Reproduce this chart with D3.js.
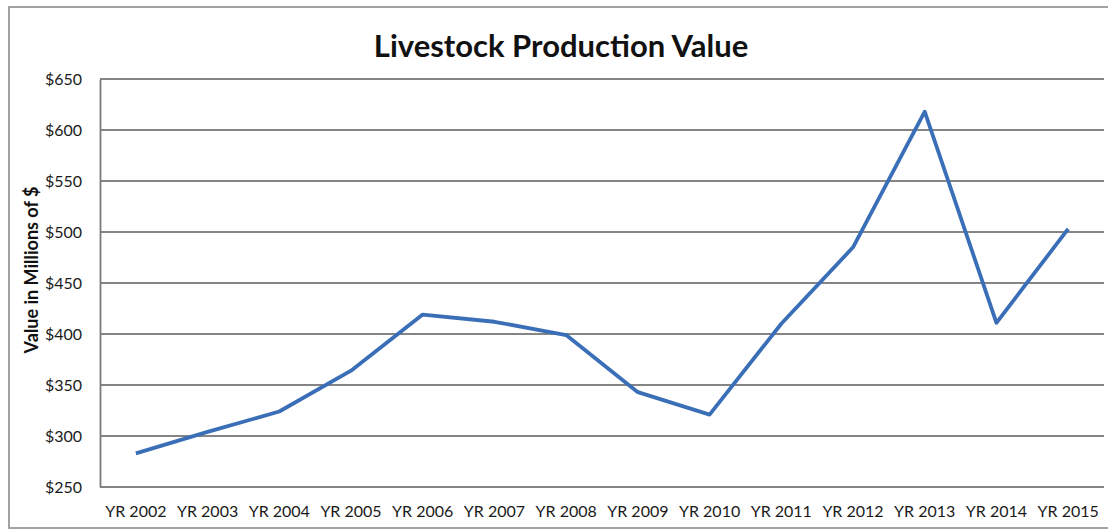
<!DOCTYPE html>
<html>
<head>
<meta charset="utf-8">
<script src="https://cdn.jsdelivr.net/npm/d3@7"></script>
<style>
  html, body { margin: 0; padding: 0; background: #fff; }
  svg { display: block; }
</style>
</head>
<body>
<svg id="chart" width="1108" height="531"></svg>
<script>
// Livestock production value, millions of dollars
const years = ["YR 2002", "YR 2003", "YR 2004", "YR 2005", "YR 2006", "YR 2007", "YR 2008",
               "YR 2009", "YR 2010", "YR 2011", "YR 2012", "YR 2013", "YR 2014", "YR 2015"];
const values = [283, 304, 324, 364, 419, 412, 399, 343, 321, 410, 485, 618, 411, 503];
const yTicks = [250, 300, 350, 400, 450, 500, 550, 600, 650];

const title = "Livestock Production Value";
const yTitle = "Value in Millions of $";

const svg = d3.select("#chart");
const W = 1108, H = 531;
const m = { left: 100, right: 4, top: 79, bottom: 44 };
const font = "Lato, 'Open Sans', sans-serif";

svg.append("rect").attr("width", W).attr("height", H).attr("fill", "#fff");

// chart frame
svg.append("rect")
  .attr("x", 9).attr("y", 7).attr("width", W + 10).attr("height", 521)
  .attr("fill", "none").attr("stroke", "#8c8c8c").attr("stroke-width", 1.6);

const x = d3.scaleBand().domain(years).range([m.left, W - m.right]);
const y = d3.scaleLinear().domain([250, 650]).range([H - m.bottom, m.top]);

// horizontal gridlines
svg.append("g")
  .selectAll("line").data(yTicks).join("line")
  .attr("x1", m.left).attr("x2", W - m.right)
  .attr("y1", d => y(d)).attr("y2", d => y(d))
  .attr("stroke", "#858585").attr("stroke-width", 1.8);

// y axis
const yAxis = svg.append("g")
  .attr("transform", `translate(${m.left},0)`)
  .call(d3.axisLeft(y).tickValues(yTicks).tickSize(0).tickPadding(18).tickFormat(d => "$" + d));
yAxis.select(".domain").attr("stroke", "#7a7a7a").attr("stroke-width", 1.8);
yAxis.selectAll("text")
  .attr("font-family", font).attr("font-size", 16).attr("fill", "#1a1a1a");

// x axis
const xAxis = svg.append("g")
  .attr("transform", `translate(0,${H - m.bottom})`)
  .call(d3.axisBottom(x).tickSize(0).tickPadding(19));
xAxis.select(".domain").remove();
xAxis.selectAll("text")
  .attr("font-family", font).attr("font-size", 16).attr("fill", "#1a1a1a");

// series line
const line = d3.line()
  .x((d, i) => x(years[i]) + x.bandwidth() / 2)
  .y(d => y(d));
svg.append("path")
  .datum(values)
  .attr("d", line)
  .attr("fill", "none")
  .attr("stroke", "#3a6fb7")
  .attr("stroke-width", 3.8)
  .attr("stroke-linejoin", "round");

// titles
svg.append("text")
  .attr("x", 561).attr("y", 57)
  .attr("text-anchor", "middle")
  .attr("font-family", font).attr("font-weight", "bold").attr("font-size", 31)
  .attr("fill", "#111")
  .text(title);

svg.append("text")
  .attr("transform", `translate(38,270) rotate(-90)`)
  .attr("text-anchor", "middle")
  .attr("font-family", font).attr("font-weight", "bold").attr("font-size", 18)
  .attr("fill", "#111")
  .text(yTitle);
</script>
</body>
</html>
